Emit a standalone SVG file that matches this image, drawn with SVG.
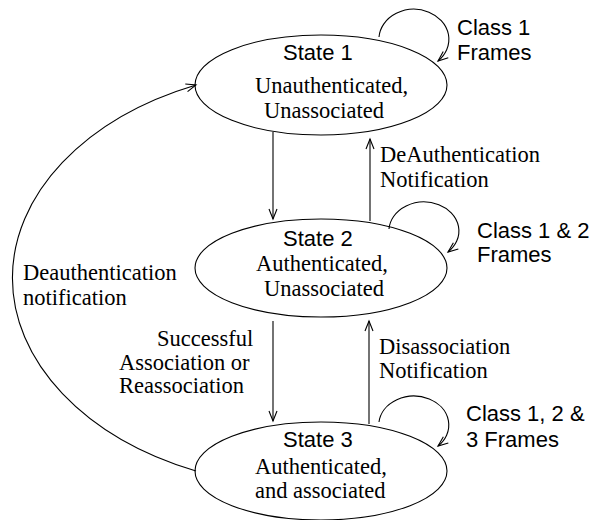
<svg xmlns="http://www.w3.org/2000/svg" width="596" height="520" viewBox="0 0 596 520">
  <style>
    .state { fill: none; stroke: #000; stroke-width: 1.1; }
    .edge { fill: none; stroke: #000; stroke-width: 1.1; }
    .sans { font-family: "Liberation Sans", Arial, sans-serif; font-size: 22px; fill: #000; }
    .serif { font-family: "Liberation Serif", "Times New Roman", serif; font-size: 22.5px; fill: #000; }
  </style>
  <defs>
    <marker id="arrow" viewBox="-12 -6 14 12" refX="0" refY="0" markerWidth="14" markerHeight="12" markerUnits="userSpaceOnUse" orient="auto">
      <path d="M-10,-4 L0,0 L-10,4" fill="none" stroke="#000" stroke-width="1.1"/>
    </marker>
  </defs>
  <rect width="596" height="520" fill="#fff"/>

  <!-- transitions -->
  <g id="connectors">
    <!-- State 1 -> State 2 -->
    <line class="edge" x1="273" y1="132" x2="273" y2="219" marker-end="url(#arrow)"/>
    <!-- State 2 -> State 1 -->
    <line class="edge" x1="370" y1="221" x2="370" y2="139" marker-end="url(#arrow)"/>
    <!-- State 2 -> State 3 -->
    <line class="edge" x1="273" y1="321" x2="273" y2="421" marker-end="url(#arrow)"/>
    <!-- State 3 -> State 2 -->
    <line class="edge" x1="369" y1="424" x2="369" y2="321" marker-end="url(#arrow)"/>
    <!-- State 3 -> State 1 -->
    <path class="edge" d="M196,471 A303,210 0 0 1 196,85" marker-end="url(#arrow)"/>
    <!-- self loops -->
    <path class="edge" d="M379,37 A35,30 0 1 1 438,61" marker-end="url(#arrow)"/>
    <path class="edge" d="M389,229 A35,29 0 1 1 448,252" marker-end="url(#arrow)"/>
    <path class="edge" d="M379,422 A35,29 0 1 1 438,446" marker-end="url(#arrow)"/>
  </g>

  <!-- transition labels -->
  <g id="labels">
    <text class="sans" x="457" y="35">Class 1</text>
    <text class="sans" x="457" y="60">Frames</text>
    <text class="serif" x="380" y="162">DeAuthentication</text>
    <text class="serif" x="380" y="187">Notification</text>
    <text class="sans" x="477" y="238">Class 1 &amp; 2</text>
    <text class="sans" x="477" y="262">Frames</text>
    <text class="serif" x="23" y="280">Deauthentication</text>
    <text class="serif" x="23" y="305">notification</text>
    <text class="serif" x="157" y="346">Successful</text>
    <text class="serif" x="119" y="370">Association or</text>
    <text class="serif" x="119" y="393">Reassociation</text>
    <text class="serif" x="379" y="354">Disassociation</text>
    <text class="serif" x="379" y="378">Notification</text>
    <text class="sans" x="466" y="421">Class 1, 2 &amp;</text>
    <text class="sans" x="466" y="447">3 Frames</text>
  </g>

  <g id="state1">
    <ellipse class="state" cx="321" cy="85" rx="126" ry="50"/>
    <text class="sans" x="283" y="60">State 1</text>
    <text class="serif" x="255" y="93">Unauthenticated,</text>
    <text class="serif" x="264" y="118">Unassociated</text>
  </g>

  <g id="state2">
    <ellipse class="state" cx="321" cy="268" rx="126" ry="49"/>
    <text class="sans" x="283" y="246">State 2</text>
    <text class="serif" x="256" y="271">Authenticated,</text>
    <text class="serif" x="264" y="296">Unassociated</text>
  </g>

  <g id="state3">
    <ellipse class="state" cx="321" cy="471" rx="126" ry="49"/>
    <text class="sans" x="283" y="447">State 3</text>
    <text class="serif" x="255" y="474">Authenticated,</text>
    <text class="serif" x="255" y="498">and associated</text>
  </g>
</svg>
